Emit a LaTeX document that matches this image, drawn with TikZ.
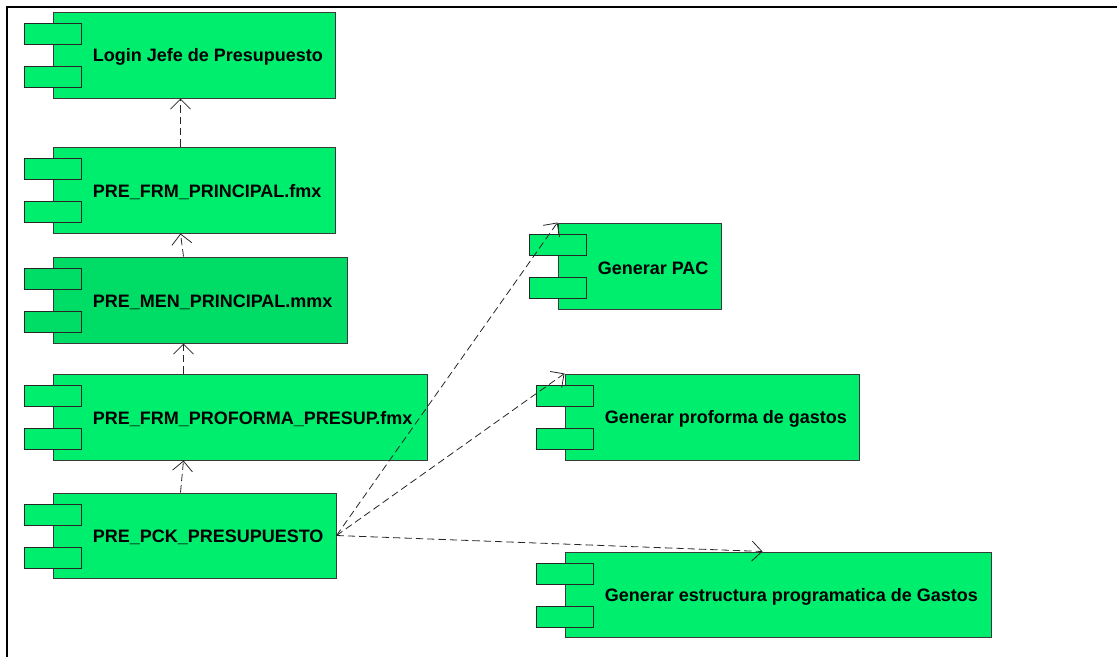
\documentclass[tikz,border=0pt]{standalone}
\usepackage{fontspec}
\setmainfont{Liberation Sans}
\usetikzlibrary{arrows.meta,calc}

\definecolor{compgreen}{HTML}{00EE6E}
\definecolor{compdark}{HTML}{00DD66}
\definecolor{compedge}{HTML}{3A3A3A}

\tikzset{
  body/.style={rectangle, draw=compedge, line width=0.75pt, inner sep=0pt},
  tab/.style={rectangle, draw=black!85, line width=0.75pt, inner sep=0pt,
              minimum width=42.75pt, minimum height=15.75pt},
  caption/.style={inner sep=0pt, font=\bfseries\fontsize{13.5pt}{16pt}\selectfont},
  dep/.style={draw=black!85, line width=0.6pt, dash pattern=on 5.5pt off 3pt,
              -{Straight Barb[length=7.5pt,width=15pt]}},
  frameline/.style={line width=2.1pt, draw=black}
}

% component box: name, left, top, right, bottom, fill, caption (pixel units)
\newcommand\umlcomponent[7]{%
  \node[body, fill=#6, minimum width={(#4-#2)*0.75pt}, minimum height={(#5-#3)*0.75pt}]
    (#1) at ({(#2+#4)/2},{(#3+#5)/2}) {};
  \node[tab, fill=#6] (#1-taba) at ({#2-0.5},{#3+21.5}) {};
  \node[tab, fill=#6] (#1-tabb) at ({#2-0.5},{#3+64.5}) {};
  \node[caption, anchor=west] (#1-text) at ([xshift=30pt, yshift=-1.5pt]#1.west) {#7};
}

\begin{document}
\begin{tikzpicture}[x=0.75pt, y=-0.75pt]
  \useasboundingbox (0,0) rectangle (1117,657);

  % outer frame (top and left edges)
  \coordinate (fa) at (1117,7);
  \coordinate (fb) at (7,7);
  \coordinate (fc) at (7,657);
  \draw[frameline] (fa) -- (fb) -- (fc);

  % left column
  \umlcomponent{login}{53}{12}{335}{98}{compgreen}{Login Jefe de Presupuesto}
  \umlcomponent{frmp}{53}{147}{335}{233}{compgreen}{PRE\_FRM\_PRINCIPAL.fmx}
  \umlcomponent{menp}{53}{257}{347}{343}{compdark}{PRE\_MEN\_PRINCIPAL.mmx}
  \umlcomponent{prof}{53}{374}{427}{460}{compgreen}{PRE\_FRM\_PROFORMA\_PRESUP.fmx}
  \umlcomponent{pck}{53}{493}{336}{578}{compgreen}{PRE\_PCK\_PRESUPUESTO}

  % right column
  \umlcomponent{pac}{558}{223}{721}{309}{compgreen}{Generar PAC}
  \umlcomponent{gpro}{565}{374}{859}{460}{compgreen}{Generar proforma de gastos}
  \umlcomponent{gest}{565}{552}{991}{637}{compgreen}{Generar estructura programatica de Gastos}

  % dependencies
  \draw[dep] ($(frmp.north west)+(128,0)$) -- ($(login.south west)+(128,0)$);
  \draw[dep] ($(menp.north west)+(131,0)$) -- ($(frmp.south west)+(128,0)$);
  \draw[dep] ($(prof.north west)+(131,0)$) -- ($(menp.south west)+(131,0)$);
  \draw[dep] ($(pck.north west)+(128,0)$) -- ($(prof.south west)+(131,0)$);
  \draw[dep] (pck.east) -- (pac.north west);
  \draw[dep] (pck.east) -- (gpro.north west);
  \draw[dep] (pck.east) -- ($(gest.north west)+(198,0)$);
\end{tikzpicture}
\end{document}
